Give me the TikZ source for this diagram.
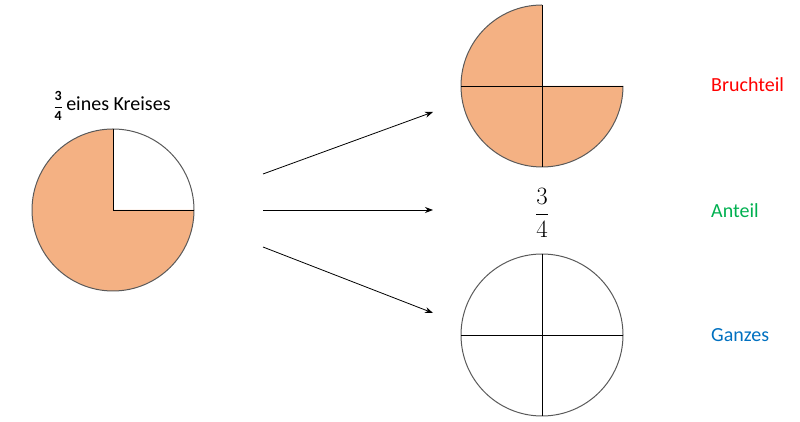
\documentclass[tikz,border=0pt]{standalone}
\usepackage{amsmath}
\usepackage{fontspec}
\setmainfont{Carlito}
\usepackage{tikz}
\usetikzlibrary{arrows.meta, positioning, calc}
\definecolor{pieorange}{RGB}{244, 177, 131}
\definecolor{rimgray}{RGB}{89, 89, 89}
\definecolor{partred}{RGB}{255, 0, 0}
\definecolor{sharegreen}{RGB}{0, 176, 80}
\definecolor{wholeblue}{RGB}{0, 112, 192}

\begin{document}
\begin{tikzpicture}[
  x=1pt, y=1pt,
  rim/.style={draw=rimgray, line width=1pt},
  cut/.style={draw=black, line width=0.9pt},
  pointer/.style={-{Stealth[length=8pt, width=6pt]}, line width=0.8pt},
  tag/.style={anchor=west, font=\fontsize{20}{24}\selectfont, inner sep=0pt}
]
  \useasboundingbox (0,0) rectangle (800,422);

  % Three quarters of a circle
  \coordinate (quarter) at (113, 212);
  \fill[pieorange] (quarter) -- ++(90:81) arc (90:360:81) -- cycle;
  \draw[rim] (quarter) circle (81);
  \draw[cut] (quarter) -- ++(0,81);
  \draw[cut] (quarter) -- ++(81,0);
  \node[font=\fontsize{20}{24}\selectfont, inner sep=0pt] (title) at (112, 316) {{\fontsize{14}{16}\selectfont$\dfrac{\textbf{3}}{\textbf{4}}$}\,eines Kreises};

  % Part of the whole
  \coordinate (part) at (542, 336);
  \fill[pieorange] (part) -- ++(90:81) arc (90:360:81) -- cycle;
  \draw[rim] ($(part)+(0,81)$) arc (90:360:81);
  \draw[cut] ($(part)+(0,81)$) -- ($(part)+(0,-81)$);
  \draw[cut] ($(part)+(-81,0)$) -- ($(part)+(81,0)$);

  % The fraction
  \node[font=\fontsize{24}{28}\selectfont, inner sep=0pt] (share) at (542, 209) {$\dfrac{3}{4}$};

  % The whole circle
  \coordinate (whole) at (542, 87);
  \draw[rim] (whole) circle (81);
  \draw[cut] ($(whole)+(0,81)$) -- ($(whole)+(0,-81)$);
  \draw[cut] ($(whole)+(-81,0)$) -- ($(whole)+(81,0)$);

  % Arrows
  \coordinate (fromA) at (263, 248);
  \coordinate (fromB) at (263, 212);
  \coordinate (fromC) at (263, 175);
  \coordinate (toA) at (433, 310);
  \coordinate (toB) at (433, 212);
  \coordinate (toC) at (433, 109);
  \draw[pointer] (fromA) -- (toA);
  \draw[pointer] (fromB) -- (toB);
  \draw[pointer] (fromC) -- (toC);

  % Labels
  \node[tag, text=partred] (bruch) at (711, 337) {Bruchteil};
  \node[tag, text=sharegreen] (anteil) at (711, 211) {Anteil};
  \node[tag, text=wholeblue] (ganzes) at (711, 87) {Ganzes};
\end{tikzpicture}
\end{document}
